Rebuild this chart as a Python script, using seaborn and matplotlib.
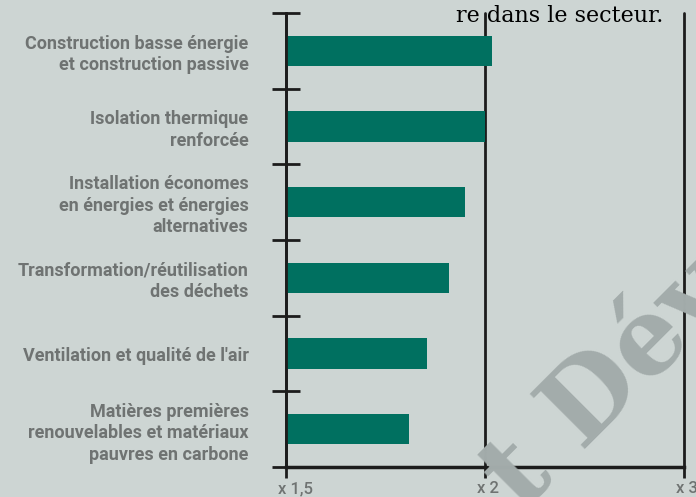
import numpy as np
import matplotlib
matplotlib.use('Agg')
import matplotlib.pyplot as plt
import matplotlib.transforms as mtransforms
import seaborn as sns

categories = [
    'Construction basse énergie\net construction passive',
    'Isolation thermique\nrenforcée',
    'Installation économes\nen énergies et énergies\nalternatives',
    'Transformation/réutilisation\ndes déchets',
    "Ventilation et qualité de l'air",
    'Matières premières\nrenouvelables et matériaux\npauvres en carbone',
]
multipliers = [2.035, 2.0, 1.95, 1.91, 1.855, 1.81]
tick_values = [1.5, 2, 3]
tick_labels = ['x 1,5', 'x 2', 'x 3']

bg = '#cdd5d3'
green = '#007060'
grey_txt = '#6f7372'
dark = '#1c1c1c'

sns.set_style('white')
plt.rcParams['font.family'] = ['Roboto', 'DejaVu Sans']

fig = plt.figure(figsize=(6.96, 4.97), dpi=100, facecolor=bg)
ax = fig.add_axes([0.411, 0.060, 0.572, 0.914], facecolor=bg)

sns.barplot(x=multipliers, y=categories, color=green, saturation=1,
            width=0.4, orient='h', ax=ax, zorder=2, edgecolor='none', linewidth=0)

# piecewise axis: 1.5 -> 2 and 2 -> 3 get the same length
def fwd(v):
    return np.interp(v, [1.5, 2, 3], [0, 1, 2])

def inv(v):
    return np.interp(v, [0, 1, 2], [1.5, 2, 3])

ax.set_xscale('function', functions=(fwd, inv))
ax.set_xlim(1.5, 3)
ax.set_ylim(5.5, -0.5)

ax.set_xticks(tick_values)
ax.set_xticklabels(tick_labels)
ax.xaxis.set_minor_locator(matplotlib.ticker.NullLocator())
ax.tick_params(axis='x', bottom=True, direction='out', length=8, width=2,
               color=dark, labelcolor=grey_txt, labelsize=12, pad=2)
offset = mtransforms.ScaledTranslation(-8 / 100, 0, fig.dpi_scale_trans)
for lab in ax.get_xticklabels():
    lab.set_horizontalalignment('left')
    lab.set_fontweight('medium')
    lab.set_transform(lab.get_transform() + offset)

ax.set_yticks(np.arange(-0.5, 6, 1), minor=True)
ax.tick_params(axis='y', which='major', left=False, length=0, pad=27,
               labelcolor=grey_txt, labelsize=13)
ax.tick_params(axis='y', which='minor', left=True, direction='inout',
               length=20, width=2, color=dark)
for lab in ax.get_yticklabels():
    lab.set_fontweight('bold')
    lab.set_linespacing(1.25)

ax.xaxis.grid(True, color=dark, lw=2, zorder=1)
ax.yaxis.grid(False)
for gl in ax.get_xgridlines():
    gl.set_clip_on(False)
for s in ['top', 'right']:
    ax.spines[s].set_visible(False)
ax.spines['left'].set_color(dark)
ax.spines['left'].set_linewidth(2)
ax.spines['bottom'].set_color(dark)
ax.spines['bottom'].set_linewidth(2.5)
ax.set_xlabel('')
ax.set_ylabel('')

fig.text(663 / 696, 1 - 22 / 497, 're dans le secteur.', ha='right',
         va='baseline', fontsize=16, family='DejaVu Serif', color='black')

fig.text(522 / 696, 1 - 513 / 497, 't Dév', rotation=45,
         rotation_mode='anchor', ha='left', va='baseline', fontsize=76,
         family='DejaVu Serif', fontweight='bold', color='#a3acab')

fig.savefig('out.png', dpi=100, facecolor=bg)
